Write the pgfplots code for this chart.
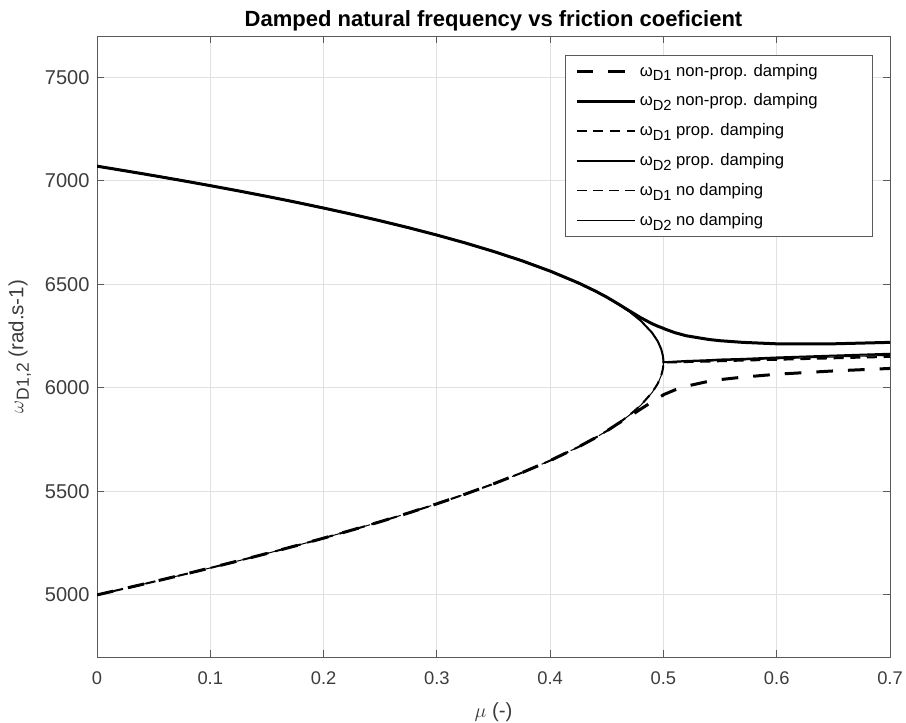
\documentclass[border=0pt]{standalone}
\usepackage{pgfplots}
\pgfplotsset{compat=1.18}
\usepackage{pgfplotstable}
\usepackage{fontspec}
\setmainfont{Liberation Sans}

\definecolor{axgray}{RGB}{90,90,90}
\definecolor{gridgray}{RGB}{225,225,225}
\definecolor{txtgray}{RGB}{60,60,60}
\newcommand{\lsub}[1]{\raisebox{-0.5ex}{\fontsize{8.8}{10}\selectfont #1}}
\newcommand{\ysub}[1]{\raisebox{-0.5ex}{\fontsize{10.5}{12}\selectfont #1}}

\pgfplotstableread{
mu      nd1     nd2     pd1     pd2     np1     np2
0       5000.0  7071.1  5000.0  7071.1  5000.0  7071.1
0.025   5031.6  7048.7  5031.6  7048.7  5031.6  7048.7
0.05    5063.7  7025.6  5063.7  7025.6  5063.7  7025.6
0.075   5096.6  7001.7  5096.6  7001.7  5096.6  7001.7
0.1     5130.3  6977.1  5130.3  6977.1  5130.3  6977.1
0.125   5164.8  6951.6  5164.8  6951.6  5164.8  6951.6
0.15    5200.2  6925.2  5200.2  6925.2  5200.2  6925.2
0.175   5236.6  6897.7  5236.6  6897.7  5236.6  6897.7
0.2     5274.2  6868.9  5274.2  6868.9  5274.2  6868.9
0.225   5313.2  6838.9  5313.2  6838.9  5313.2  6838.9
0.25    5353.6  6807.3  5353.6  6807.3  5353.6  6807.3
0.275   5395.8  6773.9  5395.8  6773.9  5395.8  6773.9
0.3     5440.1  6738.4  5440.1  6738.4  5440.1  6738.4
0.325   5486.8  6700.4  5486.8  6700.4  5486.8  6700.4
0.35    5536.6  6659.3  5536.6  6659.3  5536.6  6659.3
0.375   5590.2  6614.4  5590.2  6614.4  5590.2  6614.4
0.4     5648.9  6564.3  5648.9  6564.3  5648.9  6564.3
0.425   5714.8  6507.0  5714.8  6507.0  5714.8  6507.0
0.44    5759.3  6467.6  5759.3  6467.6  5759.3  6467.6
0.45    5792.0  6438.4  5792.0  6438.4  5792.0  6438.4
0.46    5827.9  6405.9  5827.9  6405.9  5827.9  6405.9
0.47    5868.4  6368.8  5868.4  6368.8  5862.0  6372.0
0.48    5916.1  6324.6  5916.1  6324.6  5898.0  6339.0
0.49    5977.6  6266.4  5977.6  6266.4  5933.0  6310.0
0.495   6020.8  6225.0  6020.8  6225.0  5950.0  6298.0
0.498   6058.8  6188.0  6058.8  6188.0  5960.0  6292.0
0.4995  6091.4  6155.9  6091.4  6155.9  5964.0  6289.0
0.49995 6113.5  6133.9  6113.5  6133.9  5966.0  6288.0
0.5     6123.7  6123.7  6123.7  6123.7  5967.0  6287.0
0.51    6125.4  6125.4  6123.0  6127.0  5990.0  6267.0
0.52    6127.1  6127.1  6125.0  6130.0  6008.0  6252.0
0.54    6130.5  6130.5  6127.0  6134.0  6032.0  6234.0
0.55    6132.2  6132.2  6129.0  6137.0  6040.0  6228.0
0.57    6135.6  6135.6  6132.0  6140.0  6052.0  6220.0
0.6     6140.6  6140.6  6136.0  6147.0  6066.0  6213.0
0.65    6149.0  6149.0  6143.0  6156.0  6082.0  6213.0
0.7     6157.3  6157.3  6150.0  6165.0  6094.0  6220.0
}\data

\begin{document}
\begin{tikzpicture}
\begin{axis}[
  scale only axis,
  width=475.8pt, height=372.6pt,
  xmin=0, xmax=0.7, ymin=4700, ymax=7700,
  xtick={0,0.1,...,0.7},
  ytick={5000,5500,...,7500},
  xticklabels={0,0.1,0.2,0.3,0.4,0.5,0.6,0.7},
  /pgf/number format/assume math mode=true,
  /pgf/number format/set thousands separator={},
  tick align=inside,
  major tick length=4pt,
  tick style={axgray, line width=0.5pt},
  axis line style={axgray, line width=0.5pt},
  grid=major,
  major grid style={gridgray, line width=0.5pt},
  ticklabel style={text=txtgray},
  xticklabel style={font=\fontsize{11}{13}\selectfont, yshift=-5.5pt},
  yticklabel style={font=\fontsize{12}{14}\selectfont, xshift=-1pt},
  title={\textbf{Damped natural frequency vs friction coeficient}},
  title style={font=\fontsize{13.2}{15}\selectfont, anchor=base, at={(0.5,1)}, yshift=-0.4pt},
  xlabel={$\mu$ (-)},
  ylabel={$\omega$\ysub{D1,2} (rad.s-1)},
  label style={font=\fontsize{12.3}{14}\selectfont, text=txtgray},
  xlabel style={yshift=-3.5pt},
  ylabel style={yshift=1.5pt},
  legend style={at={(0.9786,0.969)}, anchor=north east,
    font=\fontsize{10}{12}\selectfont, draw=axgray, line width=0.5pt,
    inner xsep=6pt, inner ysep=3pt, row sep=5.2pt,
    cells={anchor=west}},
  legend image code/.code={\draw[#1] (0pt,0pt) -- (35pt,0pt);},
  legend cell align=left,
]
\addplot[black, line width=1.8pt, dash pattern=on 10pt off 9pt] table[x=mu, y=np1] {\data};
\addlegendentry{ω\lsub{D1} non-prop. damping\hspace*{25pt}}
\addplot[black, line width=1.8pt] table[x=mu, y=np2] {\data};
\addlegendentry{ω\lsub{D2} non-prop. damping}
\addplot[black, line width=1.2pt, dash pattern=on 6pt off 4pt] table[x=mu, y=pd1] {\data};
\addlegendentry{ω\lsub{D1} prop. damping}
\addplot[black, line width=1.2pt] table[x=mu, y=pd2] {\data};
\addlegendentry{ω\lsub{D2} prop. damping}
\addplot[black, line width=0.6pt, dash pattern=on 6pt off 3.6pt] table[x=mu, y=nd1] {\data};
\addlegendentry{ω\lsub{D1} no damping}
\addplot[black, line width=0.6pt] table[x=mu, y=nd2] {\data};
\addlegendentry{ω\lsub{D2} no damping}
\end{axis}
\pgfresetboundingbox
\path[use as bounding box] ([xshift=-58.2pt,yshift=-39pt]current axis.south west) rectangle ([xshift=9.6pt,yshift=21.6pt]current axis.north east);
\end{tikzpicture}
\end{document}
